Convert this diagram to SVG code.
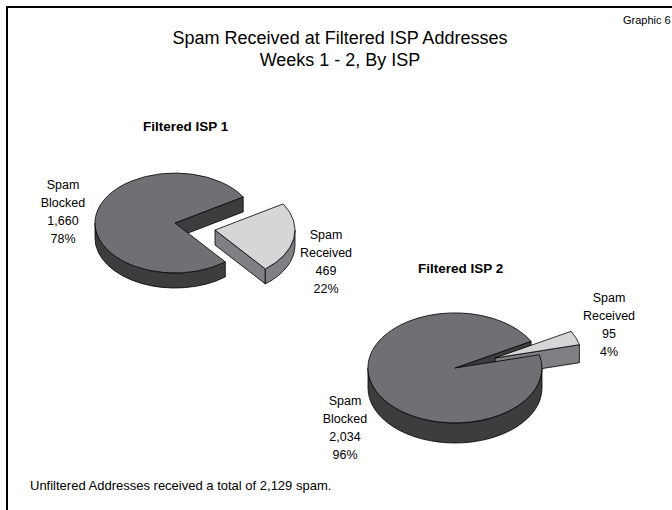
<svg xmlns="http://www.w3.org/2000/svg" width="672" height="510" viewBox="0 0 672 510">
  <style>
    text { font-family: "Liberation Sans", Arial, sans-serif; fill: #000; }
    .title { font-size: 18px; text-anchor: middle; }
    .tag { font-size: 11px; }
    .head { font-size: 13.5px; font-weight: bold; }
    .lbl { font-size: 12.5px; text-anchor: middle; }
    .note { font-size: 13px; }
    .frame { fill: none; stroke: #000; stroke-width: 2; }
    path { stroke: #000; stroke-width: 0.8; stroke-linejoin: round; }
    .topDark { fill: #6e7073; }
    .sideDark { fill: #3b3d3f; }
    .topLight { fill: #d4d6d8; }
    .sideLight { fill: #7e8083; }
  </style>

  <rect class="frame" x="7" y="7" width="700" height="600"/>

  <text class="tag" x="623" y="24">Graphic 6</text>
  <text class="title" x="340" y="44">Spam Received at Filtered ISP Addresses</text>
  <text class="title" x="340" y="66">Weeks 1 - 2, By ISP</text>

  <!-- Filtered ISP 1 : 3-D pie, received slice pulled out -->
  <g id="isp1">
    <text class="head" x="143" y="131">Filtered ISP 1</text>
    <g id="isp1-blocked">
      <path class="sideDark" d="M225.3,261.9 A80,50 0 0 1 95,223 L95,238 A80,50 0 0 0 225.3,276.9 Z"/>
      <path class="sideDark" d="M175,223 L243.2,196.9 L243.2,211.9 L175,238 Z"/>
      <path class="topDark" d="M175,223 L225.3,261.9 A80,50 0 1 1 243.2,196.9 Z"/>
      <text class="lbl" x="63" y="189">Spam</text>
      <text class="lbl" x="63" y="207">Blocked</text>
      <text class="lbl" x="63" y="225">1,660</text>
      <text class="lbl" x="63" y="243">78%</text>
    </g>
    <g id="isp1-received">
      <path class="sideLight" d="M215,230 L265.3,268.9 L265.3,283.9 L215,245 Z"/>
      <path class="sideLight" d="M295,230 A80,50 0 0 1 265.3,268.9 L265.3,283.9 A80,50 0 0 0 295,245 Z"/>
      <path class="topLight" d="M215,230 L283.2,203.9 A80,50 0 0 1 265.3,268.9 Z"/>
      <text class="lbl" x="326" y="239">Spam</text>
      <text class="lbl" x="326" y="257">Received</text>
      <text class="lbl" x="326" y="275">469</text>
      <text class="lbl" x="326" y="293">22%</text>
    </g>
  </g>

  <!-- Filtered ISP 2 : received slice sits behind the large one -->
  <g id="isp2">
    <text class="head" x="418" y="273">Filtered ISP 2</text>
    <g id="isp2-blocked-under">
      <path class="sideDark" d="M542,368 A87,55 0 0 1 368,368 L368,388 A87,55 0 0 0 542,388 Z"/>
      <path class="sideDark" d="M455,368 L531.1,341.3 L531.1,361.3 L455,388 Z"/>
    </g>
    <g id="isp2-received">
      <path class="sideLight" d="M495,358 L579.4,344.7 L579.4,362.7 L495,376 Z"/>
      <path class="topLight" d="M495,358 L571.1,331.3 A87,55 0 0 1 579.4,344.7 Z"/>
      <text class="lbl" x="609" y="302">Spam</text>
      <text class="lbl" x="609" y="320">Received</text>
      <text class="lbl" x="609" y="338">95</text>
      <text class="lbl" x="609" y="356">4%</text>
    </g>
    <g id="isp2-blocked">
      <path class="topDark" d="M455,368 L539.4,354.7 A87,55 0 1 1 531.1,341.3 Z"/>
      <text class="lbl" x="345" y="405">Spam</text>
      <text class="lbl" x="345" y="423">Blocked</text>
      <text class="lbl" x="345" y="441">2,034</text>
      <text class="lbl" x="345" y="459">96%</text>
    </g>
  </g>

  <text class="note" x="30" y="490">Unfiltered Addresses received a total of 2,129 spam.</text>
</svg>
